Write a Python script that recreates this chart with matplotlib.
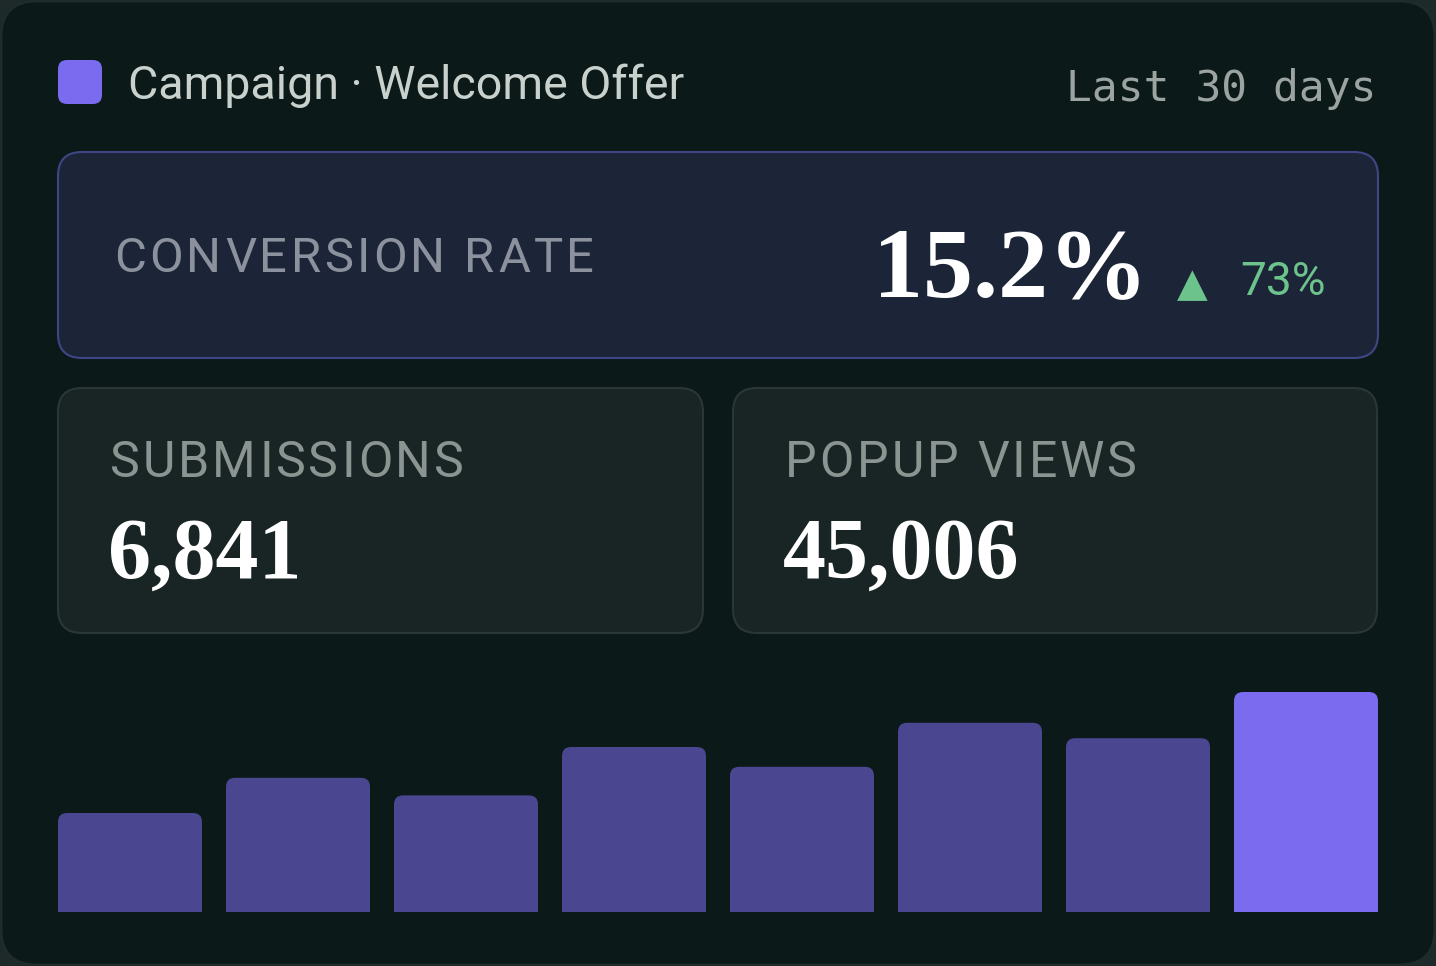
import matplotlib
matplotlib.use('Agg')
import matplotlib.pyplot as plt
from matplotlib.patches import FancyBboxPatch
import numpy as np

# chart data
title = 'Campaign · Welcome Offer'
period = 'Last 30 days'
kpi_label = 'CONVERSION RATE'
kpi_value = '15.2%'
kpi_change = '73%'
card_labels = ['SUBMISSIONS', 'POPUP VIEWS']
card_values = ['6,841', '45,006']
bar_values = [45, 61, 53, 75, 66, 86, 79, 100]  # relative, last = highlighted
highlight_index = 7

W, H = 1436, 966
BG = '#0c1919'
OUTER = '#1e2a2a'
PURPLE = '#7b6bef'
PURPLE_DIM = '#4a468f'
GREEN = '#6dc38c'

SANS = ['Roboto', 'DejaVu Sans']
SERIF = ['Liberation Serif', 'DejaVu Serif']
MONO = ['DejaVu Sans Mono']


def px(v):
    # pixel size -> points at dpi 100
    return v * 72 / 100


def rbox(ax, x0, y0, x1, y1, r, fc, ec, lw=1.5):
    p = FancyBboxPatch((x0, y0), x1 - x0, y1 - y0,
                       boxstyle='round,pad=0,rounding_size=%g' % r,
                       fc=fc, ec=ec, lw=lw)
    ax.add_patch(p)
    return p


def text_width(ax, s, **kw):
    r = ax.figure.canvas.get_renderer()
    t = ax.text(0, 0, s, **kw)
    w = t.get_window_extent(r).width
    t.remove()
    return w


def spaced_text(ax, x, y, s, tracking, **kw):
    # letter spaced text, one char at a time
    bar_w = text_width(ax, '|', **kw)
    for i, ch in enumerate(s):
        adv = 0 if i == 0 else text_width(ax, s[:i] + '|', **kw) - bar_w
        ax.text(x + adv + i * tracking, y, ch, **kw)


fig = plt.figure(figsize=(W / 100, H / 100), dpi=100)
fig.patch.set_facecolor(OUTER)
ax = fig.add_axes([0, 0, 1, 1])
ax.set_xlim(0, W)
ax.set_ylim(H, 0)
ax.axis('off')

# outer card
rbox(ax, 1, 1, W - 1, H - 1, 36, BG, '#1f2c2c', lw=2)

# header
rbox(ax, 58, 60, 102, 104, 9, PURPLE, 'none', lw=0)
ax.text(128, 99, title, fontsize=px(46.5), color='#c9d1cd', family=SANS, va='baseline')
ax.text(1377, 101, period, fontsize=px(43), color='#9ca4a1', family=MONO,
        va='baseline', ha='right')

# conversion rate panel
rbox(ax, 58, 152, 1378, 358, 24, '#1c2438', '#3f4685', lw=1.5)
spaced_text(ax, 114, 272, kpi_label, 3.4, fontsize=px(49), color='#8b919d',
            family=SANS, va='baseline')
ax.text(1148, 296, kpi_value, fontsize=px(100), color='white', family=SERIF,
        fontweight='bold', va='baseline', ha='right')
ax.text(1177, 296, '▲', fontsize=px(40), color=GREEN, family=['DejaVu Sans'],
        va='baseline', ha='left')
ax.text(1240, 295, kpi_change, fontsize=px(46), color=GREEN, family=SANS,
        va='baseline', ha='left')

# submissions / popup views cards
card_x = [(58, 703), (733, 1377)]
for (x0, x1), lab, val in zip(card_x, card_labels, card_values):
    rbox(ax, x0, 388, x1, 633, 24, '#192424', '#2b3737', lw=1.5)
    spaced_text(ax, x0 + 52, 477, lab, 3, fontsize=px(50), color='#8a9592',
                family=SANS, va='baseline')
    ax.text(x0 + 50, 578, val, fontsize=px(86), color='white', family=SERIF,
            fontweight='bold', va='baseline')

# bar strip
bw = 144 / 168
bax = fig.add_axes([58 / W, (H - 912) / H, 1320 / W, 220 / H])
bax.set_xlim(-bw / 2, len(bar_values) - 1 + bw / 2)
bax.set_ylim(0, max(bar_values))
bax.axis('off')
bax.patch.set_alpha(0)
xs = np.arange(len(bar_values))
colors = [PURPLE if i == highlight_index else PURPLE_DIM for i in range(len(bar_values))]
bars = bax.bar(xs, bar_values, width=bw, color=colors)

xpp = (len(bar_values) - 1 + bw) / 1320
ypp = max(bar_values) / 220
r_px = 9
for b, c in zip(bars, colors):
    b.set_visible(False)
    x0, h = b.get_x(), b.get_height()
    low = -r_px * ypp
    p = FancyBboxPatch((x0, low), b.get_width(), h - low,
                       boxstyle='round,pad=0,rounding_size=%g' % (r_px * xpp),
                       mutation_aspect=ypp / xpp, fc=c, ec='none')
    bax.add_patch(p)

fig.savefig('out.png', dpi=100, facecolor=fig.get_facecolor())
